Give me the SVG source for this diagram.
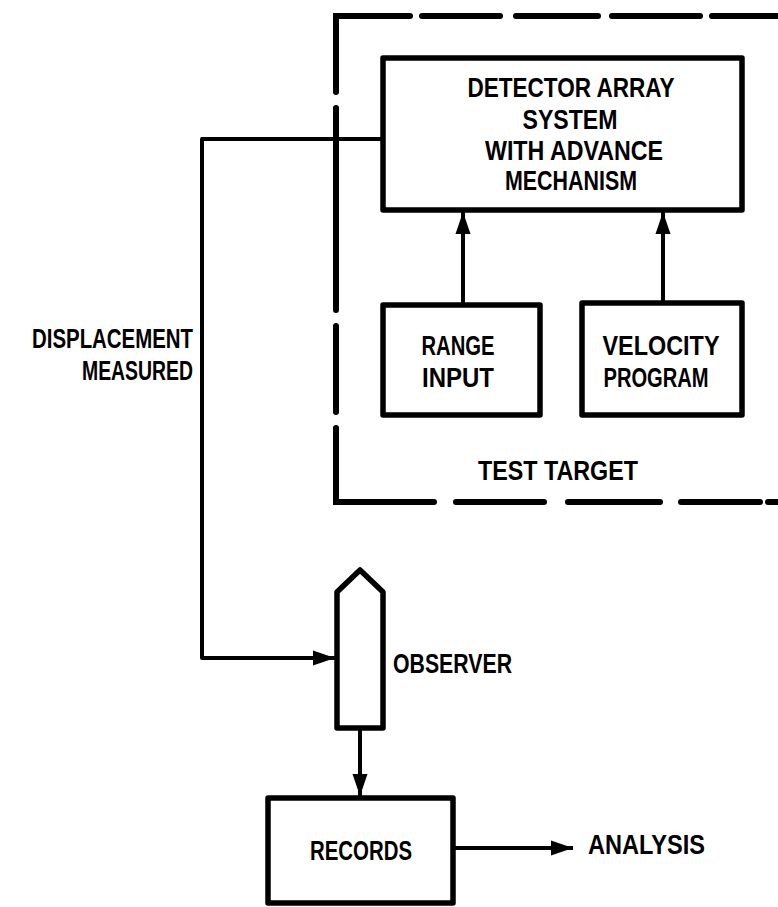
<svg xmlns="http://www.w3.org/2000/svg" width="778" height="907" viewBox="0 0 778 907">
<style>
.box{fill:#fff;stroke:#000;stroke-width:5.5;stroke-linejoin:round}
.ln{fill:none;stroke:#000;stroke-width:4;stroke-linejoin:round}
.dash{fill:none;stroke:#000;stroke-width:6;stroke-linecap:round}
text{font-family:"Liberation Sans Narrow","Liberation Sans",Arial,sans-serif;font-weight:bold;font-size:27px;fill:#000}
.c{text-anchor:middle}
</style>
<defs>
<marker id="ah" markerUnits="userSpaceOnUse" markerWidth="24" markerHeight="18" refX="22" refY="9" orient="auto">
<path d="M0,1.5 L22,9 L0,16.5 Z" fill="#000"/>
</marker>
</defs>
<rect width="778" height="907" fill="#fff"/>
<g id="test-target">
<path class="dash" d="M336,92 V16 H410 M422,16 H500 M516,16 H598 M612,16 H700 M712,16 H778"/>
<path class="dash" d="M336,108 V310 M336,326 V412 M336,428 V502 H434 M456,502 H544 M568,502 H660 M681,502 H760 M768,502 H778"/>
<text class="c" x="558" y="480" textLength="160" lengthAdjust="spacingAndGlyphs">TEST TARGET</text>
</g>
<g id="connectors">
<path class="ln" d="M383,139 H202 V658 H335" marker-end="url(#ah)"/>
<path class="ln" d="M463,305 V212" marker-end="url(#ah)"/>
<path class="ln" d="M663,303 V212" marker-end="url(#ah)"/>
<path class="ln" d="M360,728 V796" marker-end="url(#ah)"/>
<path class="ln" d="M453,848 H573" marker-end="url(#ah)"/>
</g>
<g id="detector">
<rect class="box" x="383" y="58" width="359" height="152"/>
<text class="c" x="571" y="97" textLength="207" lengthAdjust="spacingAndGlyphs">DETECTOR ARRAY</text>
<text class="c" x="570" y="129" textLength="95" lengthAdjust="spacingAndGlyphs">SYSTEM</text>
<text class="c" x="574" y="160" textLength="178" lengthAdjust="spacingAndGlyphs">WITH ADVANCE</text>
<text class="c" x="571" y="190" textLength="132" lengthAdjust="spacingAndGlyphs">MECHANISM</text>
</g>
<g id="range">
<rect class="box" x="383" y="305" width="157" height="110"/>
<text class="c" x="458" y="355" textLength="73" lengthAdjust="spacingAndGlyphs">RANGE</text>
<text class="c" x="458" y="387" textLength="72" lengthAdjust="spacingAndGlyphs">INPUT</text>
</g>
<g id="velocity">
<rect class="box" x="582" y="303" width="160" height="112"/>
<text class="c" x="661" y="355" textLength="117" lengthAdjust="spacingAndGlyphs">VELOCITY</text>
<text class="c" x="656" y="387" textLength="105" lengthAdjust="spacingAndGlyphs">PROGRAM</text>
</g>
<g id="displacement">
<text x="193" y="348" text-anchor="end" textLength="161" lengthAdjust="spacingAndGlyphs">DISPLACEMENT</text>
<text x="193" y="380" text-anchor="end" textLength="111" lengthAdjust="spacingAndGlyphs">MEASURED</text>
</g>
<g id="observer">
<path class="box" d="M337,728 V592 L360,570 L383,592 V728 Z"/>
<text x="393" y="673" textLength="119" lengthAdjust="spacingAndGlyphs">OBSERVER</text>
</g>
<g id="records">
<rect class="box" x="268" y="798" width="185" height="105"/>
<text class="c" x="361" y="860" textLength="102" lengthAdjust="spacingAndGlyphs">RECORDS</text>
</g>
<g id="analysis">
<text x="588" y="854" textLength="117" lengthAdjust="spacingAndGlyphs">ANALYSIS</text>
</g>
</svg>
